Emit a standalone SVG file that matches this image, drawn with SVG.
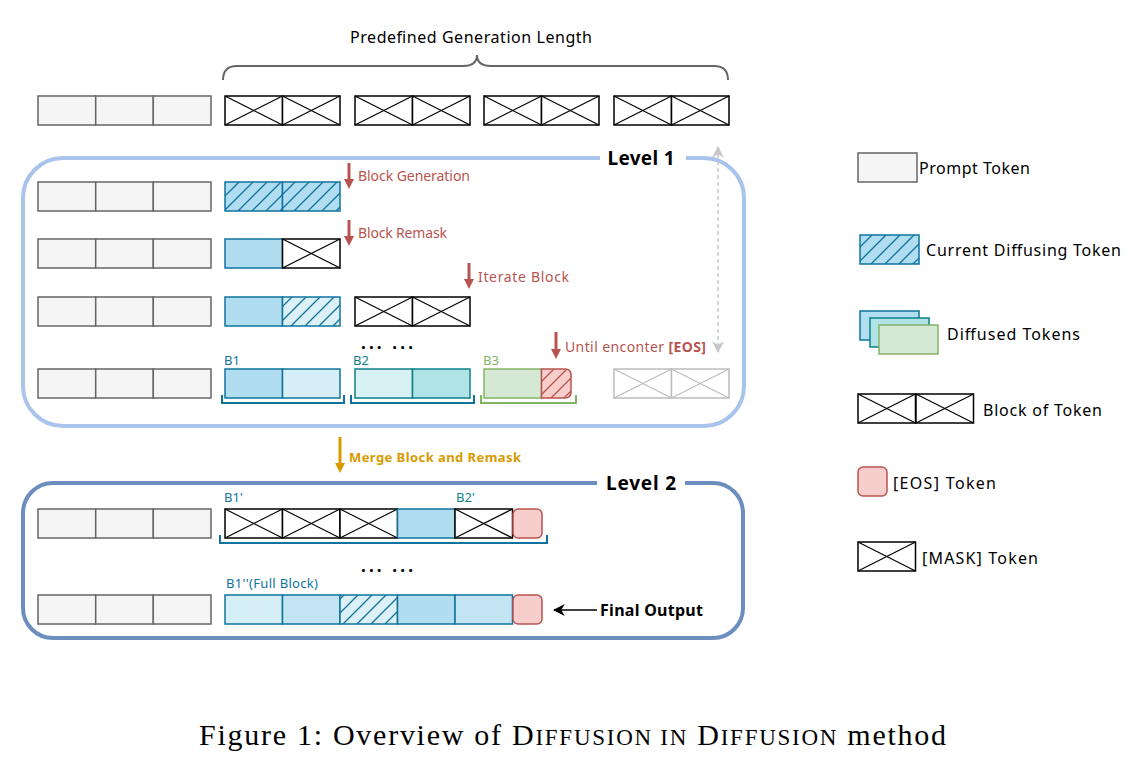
<svg xmlns="http://www.w3.org/2000/svg" width="1144" height="768" viewBox="0 0 1144 768">
<defs>
<style>
.lbl{font-family:"Noto Sans","DejaVu Sans",sans-serif;}
.prompt{fill:#F5F5F5;stroke:#666;stroke-width:1.5;}
.mk rect{fill:#fff;stroke:#000;stroke-width:1.5;}
.mk line{stroke:#000;stroke-width:1.2;}
.gmk rect{fill:#fff;stroke:#BDBDBD;stroke-width:1.5;}
.gmk line{stroke:#BDBDBD;stroke-width:1.2;}
.blue{fill:#B1DDF0;stroke:#10739E;stroke-width:1.5;}
.lblue{fill:#D6EEF6;stroke:#10739E;stroke-width:1.5;}
.mblue{fill:#C2E4F3;stroke:#10739E;stroke-width:1.5;}
.hatch{fill:url(#hatchB);stroke:#10739E;stroke-width:1.5;}
.hatchL{fill:url(#hatchL);stroke:#10739E;stroke-width:1.5;}
.teal{fill:#B0E3E6;stroke:#0E8088;stroke-width:1.5;}
.lteal{fill:#D8F1F2;stroke:#0E8088;stroke-width:1.5;}
.green{fill:#D5E8D4;stroke:#82B366;stroke-width:1.5;}
.eos{fill:#F8CECC;stroke:#B85450;stroke-width:1.5;}
.red{fill:#B85450;font-size:14px;}
.redline{stroke:#B85450;stroke-width:3;fill:none;}
.dots{font-size:17px;font-weight:bold;fill:#000;}
.leg{font-size:16px;fill:#000;}
</style>
<pattern id="hatchB" patternUnits="userSpaceOnUse" width="14" height="14" patternTransform="translate(225,0)">
<rect width="14" height="14" fill="#B1DDF0"/>
<path d="M0,14 L14,0 M-3,3 L3,-3 M11,17 L17,11" stroke="#10739E" stroke-width="1.3"/>
</pattern>
<pattern id="hatchL" patternUnits="userSpaceOnUse" width="14" height="14" patternTransform="translate(225,0)">
<rect width="14" height="14" fill="#DCF0F8"/>
<path d="M0,14 L14,0 M-3,3 L3,-3 M11,17 L17,11" stroke="#10739E" stroke-width="1.3"/>
</pattern>
<pattern id="hatchR" patternUnits="userSpaceOnUse" width="13" height="13">
<rect width="13" height="13" fill="#F8CECC"/>
<path d="M0,13 L13,0 M-3,3 L3,-3 M10,16 L16,10" stroke="#B85450" stroke-width="1.3"/>
</pattern>
<g id="mask" class="mk"><rect x="0" y="0" width="57.5" height="29"/><line x1="0" y1="0" x2="57.5" y2="29"/><line x1="0" y1="29" x2="57.5" y2="0"/></g>
<g id="gmask" class="gmk"><rect x="0" y="0" width="57.5" height="29"/><line x1="0" y1="0" x2="57.5" y2="29"/><line x1="0" y1="29" x2="57.5" y2="0"/></g>
<g id="prompt"><rect class="prompt" x="0" y="0" width="57.7" height="29"/><rect class="prompt" x="57.7" y="0" width="57.6" height="29"/><rect class="prompt" x="115.3" y="0" width="57.7" height="29"/></g>
<marker id="arRed" markerWidth="10" markerHeight="10" refX="5" refY="5" orient="auto" markerUnits="userSpaceOnUse" viewBox="0 0 10 10"><path d="M0,0 L10,5 L0,10 Z" fill="#B85450"/></marker>
<marker id="arOr" markerWidth="10" markerHeight="10" refX="5" refY="5" orient="auto" markerUnits="userSpaceOnUse" viewBox="0 0 10 10"><path d="M0,0 L10,5 L0,10 Z" fill="#D79B00"/></marker>
<marker id="arGray" markerWidth="12" markerHeight="12" refX="9" refY="5" orient="auto-start-reverse" markerUnits="userSpaceOnUse" viewBox="0 0 10 10"><path d="M0,0 L10,5 L0,10 L3,5 Z" fill="#C8C8C8"/></marker>
<marker id="arBlk" markerWidth="12" markerHeight="12" refX="9" refY="5" orient="auto" markerUnits="userSpaceOnUse" viewBox="0 0 10 10"><path d="M0,0 L10,5 L0,10 L3,5 Z" fill="#000"/></marker>
</defs>
<rect width="1144" height="768" fill="#fff"/>

<g id="top-row">
<text class="lbl" x="471" y="43" font-size="16" text-anchor="middle" textLength="242" fill="#000">Predefined Generation Length</text>
<path d="M223,80 Q223,66 237,66 L463,66 Q477,66 477,55 Q477,66 491,66 L714,66 Q728,66 728,80" fill="none" stroke="#666" stroke-width="2"/>
<use href="#prompt" x="38" y="96"/>
<use href="#mask" x="225" y="96"/><use href="#mask" x="282.5" y="96"/>
<use href="#mask" x="355" y="96"/><use href="#mask" x="412.5" y="96"/>
<use href="#mask" x="484" y="96"/><use href="#mask" x="541.5" y="96"/>
<use href="#mask" x="614" y="96"/><use href="#mask" x="671.5" y="96"/>
</g>

<g id="level1">
<rect x="23" y="158" width="721" height="268" rx="40" fill="none" stroke="#A9C4EB" stroke-width="4"/>
<rect x="600" y="146" width="86" height="22" fill="#fff"/>
<text class="lbl" x="641" y="165" font-size="19" font-weight="bold" text-anchor="middle" fill="#000" textLength="67">Level 1</text>
</g>

<g id="l1-row1">
<use href="#prompt" x="38" y="182"/>
<rect class="hatch" x="225" y="182" width="57.5" height="29"/>
<rect class="hatch" x="282.5" y="182" width="57.5" height="29"/>
</g>
<g id="l1-row2">
<use href="#prompt" x="38" y="239"/>
<rect class="blue" x="225" y="239" width="57.5" height="29"/>
<use href="#mask" x="282.5" y="239"/>
</g>
<g id="l1-row3">
<use href="#prompt" x="38" y="297"/>
<rect class="blue" x="225" y="297" width="57.5" height="29"/>
<rect class="hatchL" x="282.5" y="297" width="57.5" height="29"/>
<use href="#mask" x="355" y="297"/><use href="#mask" x="412.5" y="297"/>
</g>
<g id="l1-row4">
<use href="#prompt" x="38" y="369"/>
<rect class="blue" x="225" y="369" width="57.5" height="29"/>
<rect class="lblue" x="282.5" y="369" width="57.5" height="29"/>
<rect class="lteal" x="355" y="369" width="57.5" height="29"/>
<rect class="teal" x="412.5" y="369" width="57.5" height="29"/>
<rect class="green" x="484" y="369" width="57.5" height="29"/>
<path d="M541.5,369 L565,369 Q571,369 571,375 L571,392 Q571,398 565,398 L541.5,398 Z" fill="url(#hatchR)" stroke="#B85450" stroke-width="1.5"/>
<use href="#gmask" x="614" y="369"/><use href="#gmask" x="671.5" y="369"/>
<path d="M222,395 L222,403 L344,403 L344,395" fill="none" stroke="#10739E" stroke-width="2"/>
<path d="M351,395 L351,403 L474,403 L474,395" fill="none" stroke="#10739E" stroke-width="2"/>
<path d="M481,395 L481,403 L576,403 L576,395" fill="none" stroke="#82B366" stroke-width="2"/>
<text class="lbl" x="224" y="365" font-size="13" fill="#10739E">B1</text>
<text class="lbl" x="353" y="365" font-size="13" fill="#0E8088">B2</text>
<text class="lbl" x="483" y="365" font-size="13" fill="#82B366">B3</text>
<text class="lbl dots" x="361" y="349" textLength="52">... ...</text>
</g>

<g id="level2">
<rect x="23" y="483" width="720" height="155" rx="30" fill="none" stroke="#6C8EBF" stroke-width="4"/>
<rect x="597" y="471" width="88" height="22" fill="#fff"/>
<text class="lbl" x="641" y="490" font-size="19" font-weight="bold" text-anchor="middle" fill="#000" textLength="70">Level 2</text>
</g>
<g id="l2-row1">
<use href="#prompt" x="38" y="509"/>
<use href="#mask" x="225" y="509"/><use href="#mask" x="282.5" y="509"/><use href="#mask" x="340" y="509"/>
<rect class="blue" x="397.5" y="509" width="57.5" height="29"/>
<use href="#mask" x="455" y="509"/>
<rect class="eos" x="513" y="509" width="29" height="29" rx="5"/>
<path d="M220,535 L220,543 L547,543 L547,535" fill="none" stroke="#10739E" stroke-width="2"/>
<text class="lbl" x="224" y="502" font-size="13" fill="#10739E">B1'</text>
<text class="lbl" x="456" y="502" font-size="13" fill="#0E8088">B2'</text>
<text class="lbl dots" x="361" y="572" textLength="52">... ...</text>
</g>
<g id="l2-row2">
<use href="#prompt" x="38" y="595"/>
<rect class="lblue" x="225" y="595" width="57.5" height="29"/>
<rect class="mblue" x="282.5" y="595" width="57.5" height="29"/>
<rect class="hatchL" x="340" y="595" width="57.5" height="29"/>
<rect class="blue" x="397.5" y="595" width="57.5" height="29"/>
<rect class="mblue" x="455" y="595" width="57.5" height="29"/>
<rect class="eos" x="513" y="595" width="29" height="29" rx="5"/>
<text class="lbl" x="226" y="588" font-size="13" fill="#10739E" textLength="92">B1''(Full Block)</text>
<text class="lbl" x="600" y="616" font-size="16" font-weight="bold" fill="#000" textLength="103">Final Output</text>
</g>

<g id="connectors">
<line class="redline" x1="349" y1="163" x2="349" y2="184" marker-end="url(#arRed)"/>
<line class="redline" x1="349" y1="220" x2="349" y2="241" marker-end="url(#arRed)"/>
<line class="redline" x1="469" y1="263" x2="469" y2="284" marker-end="url(#arRed)"/>
<line class="redline" x1="556" y1="332" x2="556" y2="354" marker-end="url(#arRed)"/>
<line x1="340" y1="437" x2="340" y2="468" stroke="#D79B00" stroke-width="3" marker-end="url(#arOr)"/>
<line x1="718" y1="147" x2="718" y2="352" stroke="#C8C8C8" stroke-width="1.5" stroke-dasharray="4,3" marker-start="url(#arGray)" marker-end="url(#arGray)"/>
<line x1="597" y1="610" x2="554" y2="610" stroke="#000" stroke-width="1.5" marker-end="url(#arBlk)"/>
</g>
<g id="connector-labels">
<text class="lbl red" x="358" y="181" textLength="112">Block Generation</text>
<text class="lbl red" x="358" y="238" textLength="89">Block Remask</text>
<text class="lbl red" x="478" y="282" textLength="91">Iterate Block</text>
<text class="lbl red" x="565" y="352" textLength="141">Until enconter <tspan font-weight="bold">[EOS]</tspan></text>
<text class="lbl" x="349" y="462" font-size="13" font-weight="bold" fill="#D79B00" textLength="172">Merge Block and Remask</text>
</g>

<g id="legend-prompt">
<rect class="prompt" x="858" y="153" width="59" height="29"/>
<text class="lbl leg" x="919" y="174" textLength="111">Prompt Token</text>
</g>
<g id="legend-current">
<rect x="860" y="235" width="59" height="29" fill="url(#hatchB)" stroke="#10739E" stroke-width="1.5"/>
<text class="lbl leg" x="926" y="256" textLength="195">Current Diffusing Token</text>
</g>
<g id="legend-diffused">
<rect class="blue" x="860" y="311" width="59" height="29"/>
<rect class="teal" x="870" y="318" width="59" height="29"/>
<rect class="green" x="879" y="325" width="59" height="29"/>
<text class="lbl leg" x="947" y="340" textLength="133">Diffused Tokens</text>
</g>
<g id="legend-block">
<use href="#mask" x="858" y="394"/><use href="#mask" x="916" y="394"/>
<text class="lbl leg" x="983" y="416" textLength="119">Block of Token</text>
</g>
<g id="legend-eos">
<rect class="eos" x="858" y="467" width="29" height="29" rx="5"/>
<text class="lbl leg" x="893" y="489" textLength="103">[EOS] Token</text>
</g>
<g id="legend-mask">
<use href="#mask" x="858" y="542"/>
<text class="lbl leg" x="922" y="564" textLength="116">[MASK] Token</text>
</g>

<text x="199" y="745" font-family="'Liberation Serif','Times New Roman',serif" font-size="30" fill="#000" textLength="747">Figure 1: Overview of D<tspan font-size="23">IFFUSION IN</tspan> D<tspan font-size="23">IFFUSION</tspan> method</text>
</svg>
